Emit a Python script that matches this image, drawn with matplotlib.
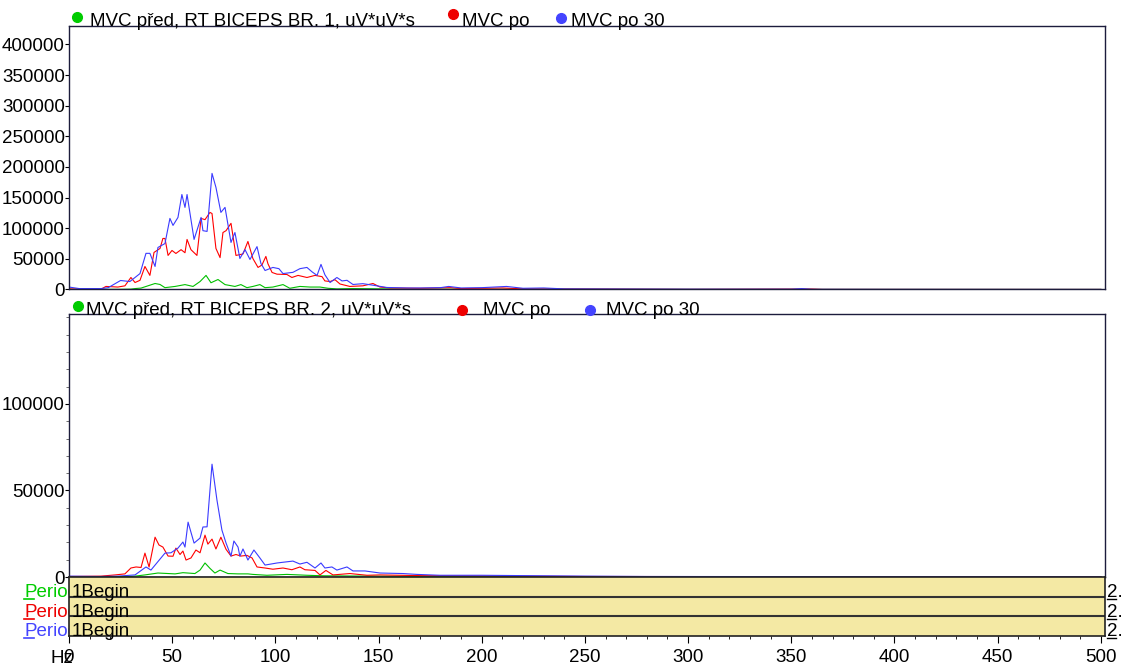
import matplotlib.pyplot as plt
from matplotlib.lines import Line2D
from matplotlib.ticker import MultipleLocator

plt.rcParams['font.family'] = ['Liberation Sans', 'DejaVu Sans']

# spectrum of channel 1 (Hz, uV*uV*s)
ch1_pred_hz = [0, 25, 30, 32, 34.9, 41.7, 44.1, 46.5, 51.4, 56.2, 60.1, 63.5, 66.4, 68.8, 72.2, 75.6,
               80.4, 83.3, 86.2, 89.1, 92.5, 95, 98.8, 103.7, 107, 111.9, 116.8, 121.6, 125.5, 129.8,
               137.6, 160, 200, 300, 500]
ch1_pred = [300, 300, 600, 1500, 2300, 9800, 8200, 3000, 5000, 8000, 5000, 13000, 23000, 11000, 16300, 8000,
            5000, 8000, 3000, 5000, 8000, 3000, 4000, 8000, 2000, 5000, 4000, 4000, 2000, 1000,
            1500, 800, 500, 200, 100]

ch1_po_hz = [0, 15.5, 17.9, 23.7, 27.1, 30, 32, 34.4, 36.8, 39.2, 41.2, 44.1, 45.5, 46.5, 48, 49.9, 51.8,
             54.3, 56.2, 57.2, 59.1, 62, 64, 65.9, 68.3, 69.3, 71.2, 73.2, 74.6, 76.1, 78.5, 80.9, 84.3,
             86.7, 89.1, 91.6, 93.5, 95.4, 96.4, 98.4, 100.8, 105.6, 108, 111, 115.3, 119.2, 122.6, 124,
             126.5, 128.9, 131.3, 136.1, 142.4, 147.3, 150.7, 155.5, 170, 185, 190, 210, 220, 250, 300,
             360, 365, 500]
ch1_po = [1000, 500, 5000, 4000, 6000, 19600, 11400, 15000, 37600, 23000, 60500, 67000, 83300, 83300, 55600,
          63700, 58800, 65000, 60000, 81700, 65000, 55600, 116000, 114000, 125800, 124000, 67000, 52000,
          93000, 96000, 108000, 55600, 58000, 78400, 50600, 36000, 40000, 54000, 42000, 27800, 25000,
          24500, 19600, 23000, 19600, 23000, 21000, 14000, 13000, 16000, 9000, 5000, 6000, 9800, 4000,
          2500, 2000, 3000, 1500, 2500, 1000, 800, 300, 800, 200, 100]

ch1_po30_hz = [0, 5, 15.5, 19, 25, 29.5, 34.4, 37.3, 39.2, 41.7, 43.1, 46.5, 48.9, 50.4, 52.8, 54.7, 56.2,
               57.2, 60.6, 64, 64.9, 66.9, 69.3, 71.2, 73.6, 75.6, 78.5, 80.4, 82.8, 85.3, 87.7, 91.1, 93,
               95, 98.8, 101.7, 103.7, 108.5, 111.9, 115.3, 117.7, 120.2, 122.1, 124, 126.5, 129.8, 132.3,
               134.7, 137.6, 142.4, 147.3, 154, 163.8, 170, 180, 184, 190, 200, 212, 220, 230, 240, 260,
               300, 350, 355, 360, 400, 500]
ch1_po30 = [4000, 1500, 1500, 3000, 14700, 13000, 26000, 59000, 59000, 37600, 68600, 75000, 116000, 104600,
            117600, 155000, 134000, 155000, 81700, 117600, 96000, 94800, 189500, 166700, 125800, 134000,
            76800, 93000, 50600, 65000, 49000, 70000, 42500, 31000, 36000, 34000, 26000, 28000, 34000,
            36000, 29000, 23000, 41000, 24000, 11400, 19600, 14000, 15000, 8200, 9500, 7000, 3300, 2500,
            2500, 3000, 5000, 2500, 3000, 5000, 2000, 2500, 1000, 800, 500, 500, 1500, 300, 200, 100]

# spectrum of channel 2
ch2_pred_hz = [0, 30, 32, 36.8, 43.1, 51.4, 55.2, 61, 63.5, 65.9, 68.3, 70.7, 73.2, 77, 81.9, 86.7, 89.1,
               95.9, 105.6, 115.3, 123, 160, 250, 500]
ch2_pred = [200, 300, 500, 1200, 2300, 1800, 2500, 2000, 4000, 8100, 5000, 2300, 4000, 2000, 1800, 1800,
            1500, 1000, 1500, 1000, 700, 400, 200, 100]

ch2_po_hz = [0, 15.5, 22.3, 27.1, 30, 32.5, 34.9, 36.8, 38.8, 41.7, 43.6, 45.5, 48, 50.4, 51.8, 53.8, 55.2,
             56.7, 59.1, 61.5, 63.5, 65.9, 67.3, 69.3, 71.2, 73.6, 76.1, 78.5, 80.9, 83.3, 86.2, 88.7,
             91.1, 95, 98.8, 103.7, 108, 111.9, 114.3, 119.2, 121.6, 124.5, 127.9, 136.1, 144.4, 150.7,
             170, 200, 250, 500]
ch2_po = [300, 500, 1200, 1800, 5200, 5800, 5500, 13800, 5800, 23000, 18500, 17300, 12100, 12000, 16700,
          13000, 15000, 9800, 11000, 15600, 14000, 24200, 19000, 21900, 16200, 23000, 16000, 12100, 13000,
          12100, 12500, 11000, 5800, 5200, 4500, 5200, 4200, 5800, 4200, 3800, 1200, 3800, 1200, 2000,
          1000, 1200, 800, 600, 300, 100]

ch2_po30_hz = [0, 15, 23.7, 32, 37.3, 39.7, 46.5, 49.4, 52.8, 55.2, 56.2, 57.7, 60.6, 63.5, 64.9, 66.9,
               69.3, 71.7, 74.1, 76.1, 78.5, 79.9, 81.9, 82.8, 84.3, 86.7, 89.6, 92.5, 95, 100.8, 108.5,
               111.9, 115.3, 119.2, 122.1, 124, 127.4, 129.8, 134.7, 137.6, 143.4, 150.7, 161.8, 168.6,
               179.7, 200, 250, 280, 500]
ch2_po30 = [500, 300, 500, 1200, 5800, 4000, 13800, 14000, 16700, 20200, 17300, 31700, 19600, 22500, 28900,
            29000, 65200, 44400, 27100, 19600, 12100, 20800, 17300, 12000, 16200, 9800, 15600, 11000, 6900,
            8100, 9200, 7500, 8500, 5200, 8100, 5200, 5800, 4000, 5800, 3500, 3500, 2300, 2000, 1500,
            1000, 1000, 500, 300, 100]

legend1 = ['MVC před, RT BICEPS BR. 1, uV*uV*s', 'MVC po', 'MVC po 30']
legend2 = ['MVC před, RT BICEPS BR. 2, uV*uV*s', 'MVC po', 'MVC po 30']
ticks1 = [0, 50000, 100000, 150000, 200000, 250000, 300000, 350000, 400000]
ticks2 = [0, 50000, 100000]
hz_ticks = [0, 50, 100, 150, 200, 250, 300, 350, 400, 450, 500]
periods = ['Period', 'Period', 'Period']
period_start = ['1Begin', '1Begin', '1Begin']

GREEN, RED, BLUE = '#00c000', '#ff0000', '#3a3aff'
DOT = ['#00cc00', '#ee0000', '#4444ff']
FRAME = '#1c1c3c'
FS = 13.5

W, H = 1124, 665
fig = plt.figure(figsize=(W / 100, H / 100), dpi=100)


def rect(l, t, r, b):
    return [l / W, 1 - b / H, (r - l) / W, (b - t) / H]


def fx(x):
    return x / W


def fy(y):
    return 1 - y / H


def style(ax):
    for s in ax.spines.values():
        s.set_color(FRAME)
        s.set_linewidth(1.0)
    ax.set_xlim(0, 502)
    ax.tick_params(axis='y', labelsize=FS, length=3, pad=0, direction='out', colors='black')
    ax.tick_params(axis='x', bottom=False, labelbottom=False)


ax1 = fig.add_axes(rect(69, 26, 1105, 289.5))
ax1.plot(ch1_pred_hz, ch1_pred, color=GREEN, lw=0.8)
ax1.plot(ch1_po_hz, ch1_po, color=RED, lw=0.8)
ax1.plot(ch1_po30_hz, ch1_po30, color=BLUE, lw=0.8)
style(ax1)
ax1.set_ylim(0, 430000)
ax1.set_yticks(ticks1)
ax1.set_yticklabels([str(t) for t in ticks1])

ax2 = fig.add_axes(rect(69, 314, 1105, 577))
ax2.plot(ch2_pred_hz, ch2_pred, color=GREEN, lw=0.8)
ax2.plot(ch2_po_hz, ch2_po, color=RED, lw=0.8)
ax2.plot(ch2_po30_hz, ch2_po30, color=BLUE, lw=0.8)
style(ax2)
ax2.set_ylim(0, 152000)
ax2.set_yticks(ticks2)
ax2.set_yticklabels([str(t) for t in ticks2])
ax2.yaxis.set_minor_locator(MultipleLocator(10000))
ax2.tick_params(axis='y', which='minor', length=2, colors='#555555')

# period bands under the spectra
ax3 = fig.add_axes(rect(69, 577, 1105, 636))
ax3.set_facecolor('#f4e9a4')
ax3.set_xlim(0, 502)
ax3.set_ylim(0, 3)
ax3.set_yticks([])
for s in ax3.spines.values():
    s.set_color('#222222')
    s.set_linewidth(1.2)
for yv in [1, 2]:
    ax3.axhline(yv, color='#333333', lw=1.5)
ax3.set_xticks(hz_ticks)
ax3.xaxis.set_minor_locator(MultipleLocator(10))
ax3.tick_params(axis='x', labelsize=FS, length=5, pad=4, colors='black')
ax3.tick_params(axis='x', which='minor', length=2)

row_base = [597, 617, 636]
for base, name, start, col in zip(row_base, periods, period_start, DOT):
    fig.text(fx(72), fy(base), start, fontsize=FS, va='baseline', ha='left')
    fig.text(fx(24), fy(base), name, fontsize=FS, va='baseline', ha='left', color=col, zorder=-1)
    fig.add_artist(Line2D([fx(24), fx(34)], [fy(base + 2), fy(base + 2)], color=col, lw=1.2))
    fig.text(fx(1107), fy(base), '2.', fontsize=FS, va='baseline', ha='left')
    fig.add_artist(Line2D([fx(1107), fx(1116)], [fy(base + 2), fy(base + 2)], color='black', lw=1.0))

fig.text(fx(50), fy(663), 'Hz', fontsize=FS, va='baseline', ha='left')

# legends above each panel
legend_rows = [
    (legend1, [(77, 17), (453, 14), (561, 18)], [90, 462, 571], 26.5),
    (legend2, [(78, 306), (462, 310), (590, 310)], [86, 483, 606], 315),
]
for labels, dots, xs, base in legend_rows:
    for lab, (dx, dy), tx, col in zip(labels, dots, xs, DOT):
        fig.add_artist(Line2D([fx(dx)], [fy(dy)], marker='o', markersize=7, color=col, lw=0))
        fig.text(fx(tx), fy(base), lab, fontsize=FS, va='baseline', ha='left')

plt.savefig('out.png', dpi=100)
